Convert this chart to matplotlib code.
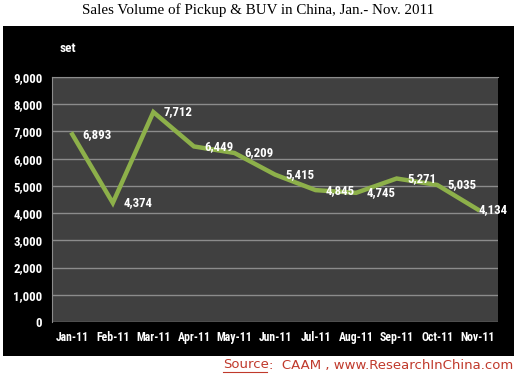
import matplotlib.pyplot as plt
from matplotlib.patches import Rectangle

months = ['Jan-11', 'Feb-11', 'Mar-11', 'Apr-11', 'May-11', 'Jun-11',
          'Jul-11', 'Aug-11', 'Sep-11', 'Oct-11', 'Nov-11']
volume = [6893, 4374, 7712, 6449, 6209, 5415, 4845, 4745, 5271, 5035, 4134]

W, H = 517, 376
fig = plt.figure(figsize=(W / 100, H / 100), dpi=100)
fig.patch.set_facecolor('white')

narrow = ['DejaVu Sans Condensed', 'Roboto Condensed', 'Liberation Sans Narrow',
          'DejaVu Sans']

# black panel behind the chart
fig.add_artist(Rectangle((3 / W, 1 - 356 / H), 511 / W, 330 / H,
                         transform=fig.transFigure, facecolor='black',
                         edgecolor='none', zorder=-5))

ax = fig.add_axes([52 / W, 1 - 322 / H, 446 / W, 245 / H])
ax.set_facecolor('#404040')

x = range(len(months))
ax.plot(x, volume, color='#8db04a', lw=3.2, solid_joinstyle='miter', zorder=3)

for i, v in enumerate(volume):
    dx = 1 if i == len(volume) - 1 else 7.5
    ax.annotate(f'{v:,}', (i, v), xytext=(dx, 0), textcoords='offset points',
                color='white', fontsize=9.3, fontweight='bold', family=narrow,
                ha='left', va='center', annotation_clip=False, zorder=4)

ax.set_xlim(-0.5, len(months) - 0.5)
ax.set_ylim(0, 9000)
ax.set_yticks(range(0, 9001, 1000))
ax.set_yticklabels([f'{t:,}' for t in range(0, 9001, 1000)])
ax.set_xticks(list(x))
ax.set_xticklabels(months)
ax.yaxis.grid(True, color='#8c8c8c', lw=1)
ax.set_axisbelow(True)
ax.tick_params(colors='white', length=0)
ax.tick_params(axis='y', pad=7, labelsize=9.3)
ax.tick_params(axis='x', pad=6.5, labelsize=8.5)
for lab in ax.get_xticklabels() + ax.get_yticklabels():
    lab.set_fontweight('bold')
    lab.set_family(narrow)
for s in ['right', 'bottom']:
    ax.spines[s].set_visible(False)
for s in ['left', 'top']:
    ax.spines[s].set_color('#8c8c8c')

fig.text(60 / W, 1 - 49 / H, 'set', color='white', fontsize=9.5,
         fontweight='bold', family=narrow, va='center')

fig.text(258 / W, 1 - 10 / H, 'Sales Volume of Pickup & BUV in China, Jan.- Nov. 2011',
         family='Liberation Serif', fontsize=10.8, ha='center', va='center')

fig.text(223 / W, 1 - 365 / H, 'Source', color='#c0392b', fontsize=9.5,
         va='center')
fig.text(269 / W, 1 - 365 / H, ':  CAAM , www.ResearchInChina.com',
         color='#c0392b', fontsize=9.5, va='center')
fig.add_artist(plt.Line2D([223 / W, 267 / W], [1 - 372 / H, 1 - 372 / H],
                          color='#c0392b', lw=0.8))

fig.savefig('out.png', dpi=100)
